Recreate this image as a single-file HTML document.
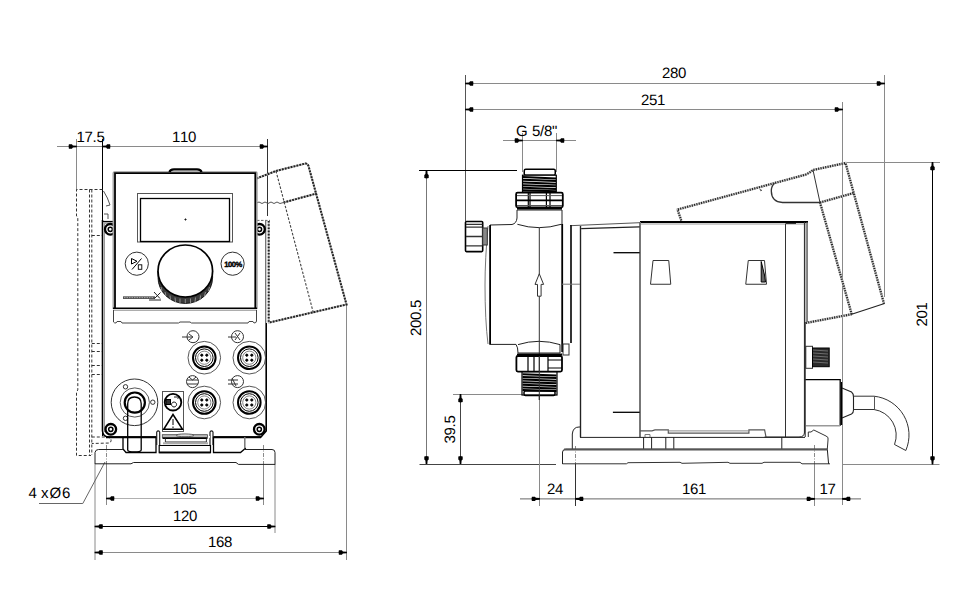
<!DOCTYPE html>
<html><head><meta charset="utf-8">
<style>
html,body{margin:0;padding:0;background:#fff;width:976px;height:600px;overflow:hidden}
svg{display:block}
text{stroke:none;font-family:"Liberation Sans",sans-serif;font-size:15px;fill:#000;text-rendering:geometricPrecision;letter-spacing:-0.5px}
.d{stroke:#8a8a8a;stroke-width:1;fill:none}
.k{fill:none}
.g{fill:none}
.h{fill:none;stroke-dasharray:3 2}
.a{fill:#000;stroke:none}
</style></head><body>
<svg width="976" height="600" viewBox="0 0 976 600" stroke="#000" stroke-width="1">
<defs>
<path id="ar" d="M0.4 -0.8 L-3.6 -1.1 L-4.6 -2.2 L-7.6 -2.2 Q-8.4 0 -7.6 2.2 L-4.6 2.2 L-3.6 1.1 L0.4 0.8 Z"/>
</defs>
<!-- ================= LEFT VIEW DIMENSIONS ================= -->
<g id="leftdims">
  <!-- top dim line -->
  <line class="d" x1="57" y1="146.5" x2="268" y2="146.5"/>
  <line class="d" x1="76.5" y1="139" x2="76.5" y2="190"/>
  <line class="k" x1="102.5" y1="139" x2="102.5" y2="436"/>
  <line class="k" x1="267.5" y1="139" x2="267.5" y2="216" stroke="#333"/>
  <use href="#ar" class="a" transform="translate(76.5,146.5)"/>
  <use href="#ar" class="a" transform="translate(102.5,146.5) rotate(180)"/>
  <use href="#ar" class="a" transform="translate(267.5,146.5)"/>
  <text x="76.5 84.5 92.5 96.5" y="142" style="letter-spacing:0">17.5</text>
  <text x="172 180 188" y="142" style="letter-spacing:0">110</text>
  <!-- bottom dims -->
  <line class="d" x1="95" y1="464" x2="95" y2="560"/>
  <line class="d" x1="106.5" y1="445" x2="106.5" y2="464" style="stroke-dasharray:4 1.5 1 1.5"/>
  <line class="d" x1="106.5" y1="464" x2="106.5" y2="505"/>
  <line class="d" x1="263.5" y1="445" x2="263.5" y2="464" style="stroke-dasharray:4 1.5 1 1.5"/>
  <line class="d" x1="263.5" y1="464" x2="263.5" y2="505"/>
  <line class="d" x1="275" y1="464" x2="275" y2="533"/>
  <line class="d" x1="346.5" y1="305" x2="346.5" y2="560"/>
  <line class="d" x1="106.5" y1="498.5" x2="263.5" y2="498.5" style="stroke:#b0b0b0"/>
  <use href="#ar" class="a" transform="translate(106.5,498.5) rotate(180)"/>
  <use href="#ar" class="a" transform="translate(263.5,498.5)"/>
  <line class="d" x1="95" y1="526.5" x2="275" y2="526.5" style="stroke:#000"/>
  <use href="#ar" class="a" transform="translate(95,526.5) rotate(180)"/>
  <use href="#ar" class="a" transform="translate(275,526.5)"/>
  <line class="d" x1="95" y1="552.5" x2="346.5" y2="552.5"/>
  <use href="#ar" class="a" transform="translate(95,552.5) rotate(180)"/>
  <use href="#ar" class="a" transform="translate(346.5,552.5)"/>
  <text x="172.5 180.5 188.5" y="494" style="letter-spacing:0">105</text>
  <text x="173 181 189" y="521" style="letter-spacing:0">120</text>
  <text x="208 216 224" y="547" style="letter-spacing:0">168</text>
  <polyline class="d" points="105,462 82.8,503.5 39,503.5" style="stroke:#666"/>
  <text x="28.5 36.5 41 49.5 62" y="498" style="letter-spacing:0">4 xØ6</text>
</g>
<!-- ================= LEFT VIEW OBJECT ================= -->
<g id="leftobj">
  <!-- dashed hidden left cover -->
  <g class="h" stroke="#333">
    <path d="M102.5 189.5 L76.5 189.5 L76.5 216 L77.8 218 L77.8 390 L76.5 392 L76.5 455.5 L91 455.5"/>
    <line x1="89.5" y1="189.5" x2="89.5" y2="455"/>
    <line x1="91.8" y1="189.5" x2="91.8" y2="455"/>
    <line x1="91.8" y1="235.5" x2="102.5" y2="235.5"/>
    <line x1="91.8" y1="343.5" x2="102.5" y2="343.5"/>
    <line x1="91.8" y1="351.5" x2="102.5" y2="351.5"/>
    <line x1="91.8" y1="365.5" x2="102.5" y2="365.5"/>
    <line x1="91.8" y1="374.5" x2="102.5" y2="374.5"/>
    <path d="M91.8 437 L108 437 Q113 439 110 443 L91.8 443.5"/>
  </g>
  <path class="k" d="M103.5 191 Q108 198 110 205 L106 206 M104 214 L108 214 L108 219" stroke="#555"/>
  <!-- dashed hidden right cover -->
  <defs><g id="lcov" fill="none">
    <path d="M256.5 178.5 L276 171 L305.5 163.5 Q307.5 163.5 308.5 166 L346.5 304.5 L268.5 322.7"/>
    <line x1="283.5" y1="202.5" x2="316.6" y2="193.5"/>
  </g></defs>
  <use href="#lcov" stroke="#b8b8b8" stroke-width="2"/>
  <use href="#lcov" stroke="#222" stroke-width="2" stroke-dasharray="1.8 1.2"/>
  <line x1="276" y1="171" x2="313.6" y2="313.7" stroke="#444" stroke-width="1.1" stroke-dasharray="2.5 1.5"/>
  <path d="M256.5 203 L259 202 L262 203.5 L265 202 L268 203.5 L271 202 L274 203.5 L277 202 L280 203.5 L283.5 202.5" stroke="#555" fill="none"/>
  <line x1="268.7" y1="221" x2="268.7" y2="323" stroke="#bbb" stroke-width="2"/>
  <line x1="268.7" y1="221" x2="268.7" y2="323" stroke="#222" stroke-width="2" stroke-dasharray="1.6 1.6"/>
  <line x1="257" y1="220.4" x2="270" y2="220.4" stroke="#666" stroke-dasharray="2.5 1.5"/>
  <line x1="265.7" y1="221" x2="265.7" y2="323" stroke="#666" stroke-width="1.2"/>
  <!-- housing body -->
  <path class="k" d="M102.5 220 L102.5 431 Q103 436.5 108 437 L156 437 M213 437 L261 437 L266.2 431 L266.2 323" stroke-width="1.6"/>
  
  <line class="g" x1="104.5" y1="222" x2="104.5" y2="432" stroke="#999"/>
  
  <path class="k" d="M106 437.3 L156.7 437.3 M213 437.3 L261 437.3" stroke-width="2"/>
  <!-- upper screws -->
  <defs><g id="scr">
    <circle cx="110.3" cy="229.3" r="5.3" fill="#fff" stroke="#000" stroke-width="2.3"/>
    <circle cx="110.3" cy="229.3" r="2.1" fill="none" stroke="#000" stroke-width="1.5"/>
  </g></defs>
  <path d="M103 221.5 L113 221.5" stroke="#000" stroke-width="1.2" fill="none"/>
  <path d="M103.5 223 L113 223" stroke="#aaa" stroke-width="2" fill="none"/>
  <use href="#scr"/>
  <use href="#scr" transform="translate(149.2,0)"/>
  <rect x="113.2" y="171.8" width="143.8" height="137.5" fill="#fff" stroke="none"/>
  <!-- front panel -->
  <path class="k" d="M113.2 309 L113.2 173 Q113.2 171.8 114.5 171.8 L256 171.8 Q257 171.8 257 173 L257 309" stroke="#999" stroke-width="1.3"/>
  <path class="k" d="M115 309 L115 173.2 L255.3 173.2 L255.3 309" stroke-width="1.8"/>
  <line class="k" x1="113" y1="308.3" x2="257" y2="308.3" stroke-width="1.6"/>
  <line class="k" x1="113" y1="310.2" x2="257" y2="310.2" stroke="#888" stroke-width="1"/>
  <path class="k" d="M169.5 172 Q170 169.3 174 169.3 L197 169.3 Q201 169.3 201.5 172" stroke-width="2.2"/>
  <rect class="k" x="137.5" y="193.5" width="95" height="48.5" stroke="#555"/>
  <rect class="k" x="140.5" y="198.5" width="89" height="43" stroke-width="1.3"/>
  <circle cx="185.5" cy="219.5" r="0.6" fill="#666"/>
  <!-- buttons -->
  <circle class="k" cx="136.8" cy="263.7" r="11.6" stroke="#333"/>
  <circle class="k" cx="232.6" cy="263.7" r="11.6" stroke="#333"/>
  <path class="k" d="M131.5 258.5 L137 261.3 L131.5 264 Z M132 269.5 L141.5 258.5" stroke-width="1"/>
  <rect class="k" x="138.3" y="264.8" width="3.5" height="4.5" stroke-width="0.9"/>
  <text x="233" y="266.8" text-anchor="middle" style="font-size:7.6px;font-weight:bold;letter-spacing:-0.5px;stroke:#000;stroke-width:0.4">100%</text>
  <!-- knob -->
  <path d="M158 271 A27.3 26 0 0 0 212.6 271 L212.6 277.5 A27.3 26 0 0 1 158 277.5 Z" fill="#3a3a3a" stroke="#000" stroke-width="0.8"/>
  <path d="M161 287 L162 291 M165 292 L166 296 M170 295.5 L170.5 300 M175 297.5 L175.5 302 M180 298.5 L180 303 M185.3 299 L185.3 303.2 M190.5 298.5 L190.5 303 M195.5 297.5 L195 302 M200.5 295.5 L200 300 M205.5 292 L204.5 296 M209.5 287 L208.5 291" stroke="#999" stroke-width="0.9" fill="none"/>
  <ellipse cx="185.3" cy="271" rx="27.3" ry="26" stroke="#000" stroke-width="1.7" fill="#fff"/>
  <!-- logo -->
  <path d="M123 296.3 L155 296.3 L155 299 L123 299 Z" fill="#555" stroke="none"/>
  <path d="M124 297.6 L154 297.6" stroke="#ddd" stroke-width="0.6" stroke-dasharray="1.5 1"/>
  <path d="M154 292 L160 298.5 M160.5 292.5 L154.5 298.5 M149 300 L161 300" stroke="#222" stroke-width="1" fill="none"/>
  <!-- lower ledge -->
  <path class="k" d="M113.5 310 L113.5 322 Q114 323 116 323 L117 321.5 L121 321.5 L122 323 L178.5 323 L180 322 L190 322 L191.5 323 L248 323 L249 321.5 L253 321.5 L254 323 Q256.5 323 256.5 321 L256.5 310" stroke="#444"/>
  <!-- connectors -->
  <g id="conn">
    <circle class="k" cx="204.3" cy="357.7" r="16.3" stroke="#444" stroke-width="0.9"/>
    <circle class="k" cx="204.3" cy="357.7" r="11.3" stroke-width="2"/>
    <circle class="k" cx="204.3" cy="357.7" r="8.8" stroke-width="1"/>
    <circle class="k" cx="204.3" cy="357.7" r="6.6" stroke="#666" stroke-width="0.8"/>
    <circle cx="201.8" cy="355.2" r="1.1"/><circle cx="206.8" cy="355.2" r="1.1"/>
    <circle cx="201.8" cy="360.2" r="1.1"/><circle cx="206.8" cy="360.2" r="1.1"/>
  </g>
  <use href="#conn" transform="translate(45,0)"/>
  <use href="#conn" transform="translate(0,44.8)"/>
  <use href="#conn" transform="translate(45,44.8)"/>
  <g stroke="#333" fill="none" stroke-width="1">
    <circle cx="193" cy="336.7" r="6"/><path d="M182 337 L192 337 M189 334 L193 337 L189 340"/>
    <circle cx="237.5" cy="336.7" r="6"/><path d="M228 337 L236 337 M235 333 L240 340 M240 333 L235 340"/>
    <circle cx="192.5" cy="381.6" r="6"/><path d="M187 380 L198 380 M187 384 L198 384 M189 377 L192.5 380 L196 377"/>
    <circle cx="237.5" cy="381.6" r="6"/><path d="M228 380 L238 380 M228 384 L238 384 M232 378 L236 386"/>
  </g>
  <!-- power socket with cable -->
  <circle class="k" cx="134.5" cy="402.3" r="23.3" stroke="#333"/>
  <circle class="k" cx="134.8" cy="402.5" r="14.6" stroke="#444" stroke-width="0.9"/>
  <circle class="k" cx="134.8" cy="402.6" r="10.1" stroke-width="2.2"/>
  <circle class="k" cx="125.5" cy="386.8" r="2.2" stroke="#333"/>
  <circle class="k" cx="152.8" cy="402.2" r="2.2" stroke="#333"/>
  <circle class="k" cx="125.5" cy="418.3" r="2.2" stroke="#333"/>
  <path class="k" d="M127.7 450 L127.7 403.8 Q127.7 397 134.45 397 Q141.2 397 141.2 403.8 L141.2 450 Q141 452 134.45 452 Q127.9 452 127.7 450 Z" fill="#fff" stroke-width="1.3"/>
  <!-- warning sign -->
  <rect class="k" x="162.5" y="391.5" width="21" height="40" stroke="#555"/>
  <circle class="k" cx="173" cy="402.2" r="8.3" stroke-width="1.8"/>
  <rect x="166" y="399.5" width="4.5" height="5" fill="#333"/>
  <path class="k" d="M174 402 A2.5 2.5 0 1 0 174.1 402 M174 397 L180 397 M177.5 395.5 L180 397 L177.5 398.5" stroke-width="0.9"/>
  <path class="k" d="M173 414.5 L163.7 429.3 L182.5 429.3 Z" stroke-width="1.5"/>
  <path class="k" d="M173 419 L173 425 M173 426.5 L173 428" stroke-width="1"/>
  <!-- feet and latch -->
  <path class="k" d="M123 437 L123 449 L126 452.5 L156 452.5 L156 437" stroke-width="1.3"/>
  <path class="k" d="M156.7 445 L156.7 432 Q158.2 429.8 159.7 432 L159.7 445" stroke="#222" stroke-width="1.2" fill="#fff"/>
  <path class="k" d="M210 445 L210 432 Q211.5 429.8 213 432 L213 445" stroke="#222" stroke-width="1.2" fill="#fff"/>
  <rect x="161" y="436" width="49" height="1.8" fill="#fff" stroke="none"/>
  <rect x="162.3" y="434.7" width="45.1" height="2.8" fill="#bbb" stroke="#444" stroke-width="0.8"/>
  <ellipse cx="185" cy="435.3" rx="9" ry="1.4" fill="#ddd" stroke="#444" stroke-width="0.8"/>
  <path class="k" d="M162.5 438.3 L207.5 438.3" stroke-width="1.5"/>
  <path class="k" d="M165.4 438.5 L165.4 442 L206.4 442 L206.4 438.5" stroke="#333"/>
  <rect x="163" y="442.3" width="45" height="2" fill="#aaa" stroke="none"/>
  <path class="k" d="M159.2 445.5 L210.5 445.5 L210.5 452.7 L159.2 452.7 Z" stroke-width="1.2"/>
  <line class="k" x1="159.2" y1="452.3" x2="210.5" y2="452.3" stroke-width="1.8"/>
  <path class="k" d="M213.5 437 L213.5 452.5 L240.5 452.5 L245.8 448" stroke-width="1.3"/>
  <line class="k" x1="244.8" y1="437" x2="244.8" y2="448" stroke="#777" stroke-width="1.5"/>
  <!-- lower screws -->
  <use href="#scr" transform="translate(0.5,200)"/>
  <use href="#scr" transform="translate(149,200)"/>
  <!-- base -->
  <path class="k" d="M95 464 L95 452.5 Q95.5 449.5 98.5 449.5 L123 449.5" stroke="#222"/>
  <path class="k" d="M243 449.5 L272 449.5 Q275 449.5 275 452.5 L275 464.5" stroke="#222"/>
  <path class="k" d="M95 463.8 L131 463.8 L133.5 462.5 L236 462.5 L238.5 464.4 L275 464.4" stroke="#222"/>
</g>
<!-- ================= RIGHT VIEW DIMENSIONS ================= -->
<g id="rightdims">
  <line class="d" x1="465.5" y1="75" x2="465.5" y2="221" style="stroke:#555"/>
  <line class="d" x1="884.5" y1="75" x2="884.5" y2="297"/>
  <line class="d" x1="842.5" y1="102" x2="842.5" y2="505"/>
  <line class="d" x1="465.5" y1="83.5" x2="884.5" y2="83.5"/>
  <use href="#ar" class="a" transform="translate(465.5,83.5) rotate(180)"/>
  <use href="#ar" class="a" transform="translate(884.5,83.5)"/>
  <line class="d" x1="465.5" y1="109.5" x2="842.5" y2="109.5"/>
  <use href="#ar" class="a" transform="translate(465.5,109.5) rotate(180)"/>
  <use href="#ar" class="a" transform="translate(842.5,109.5)"/>
  <text x="662 670 678" y="78" style="letter-spacing:0">280</text>
  <text x="641 649 657" y="105" style="letter-spacing:0">251</text>
  <!-- G 5/8 -->
  <line class="d" x1="503" y1="140.5" x2="576" y2="140.5"/>
  <line class="d" x1="522.5" y1="133" x2="522.5" y2="172"/>
  <line class="d" x1="556.5" y1="133" x2="556.5" y2="172"/>
  <use href="#ar" class="a" transform="translate(522.5,140.5)"/>
  <use href="#ar" class="a" transform="translate(556.5,140.5) rotate(180)"/>
  <text x="516 528 532 540 544 552" y="136" style="letter-spacing:0">G 5/8"</text>
  <!-- 200.5 -->
  <line class="k" x1="419" y1="170.5" x2="517" y2="170.5"/>
  <line class="k" x1="426.5" y1="170.5" x2="426.5" y2="464" stroke="#777"/>
  <use href="#ar" class="a" transform="translate(426.5,170.5) rotate(-90)"/>
  <use href="#ar" class="a" transform="translate(426.5,464) rotate(90)"/>
  <text transform="translate(421,318) rotate(-90)" x="-18 -10 -2 6 10" style="letter-spacing:0">200.5</text>
  <!-- 39.5 -->
  <line class="d" x1="453" y1="394.5" x2="525" y2="394.5"/>
  <line class="k" x1="460.5" y1="394.5" x2="460.5" y2="464" stroke="#444"/>
  <use href="#ar" class="a" transform="translate(460.5,394.5) rotate(-90)"/>
  <use href="#ar" class="a" transform="translate(460.5,464) rotate(90)"/>
  <text transform="translate(455,429.5) rotate(-90)" x="-14 -6 2 6" style="letter-spacing:0">39.5</text>
  <!-- ground -->
  <line class="k" x1="419.5" y1="464.5" x2="556" y2="464.5" stroke="#444"/>
  <line class="d" x1="842" y1="464.5" x2="939.5" y2="464.5"/>
  <!-- 201 -->
  <line class="d" x1="846" y1="162.5" x2="940" y2="162.5"/>
  <line class="k" x1="932.5" y1="162.5" x2="932.5" y2="464"/>
  <use href="#ar" class="a" transform="translate(932.5,162.5) rotate(-90)"/>
  <use href="#ar" class="a" transform="translate(932.5,464) rotate(90)"/>
  <text transform="translate(927,314.5) rotate(-90)" x="-12 -4 4" style="letter-spacing:0">201</text>
  <!-- bottom 24 161 17 -->
  <line class="d" x1="539.5" y1="395" x2="539.5" y2="506"/>
  <line class="d" x1="575.5" y1="446" x2="575.5" y2="464" style="stroke-dasharray:4 1.5 1 1.5"/>
  <line class="d" x1="575.5" y1="464" x2="575.5" y2="506" style="stroke:#333"/>
  <line class="d" x1="814.5" y1="445" x2="814.5" y2="464" style="stroke-dasharray:4 1.5 1 1.5"/>
  <line class="d" x1="814.5" y1="464" x2="814.5" y2="506"/>
  <line class="d" x1="520" y1="498.9" x2="861" y2="498.9" style="stroke:#666"/>
  <use href="#ar" class="a" transform="translate(539.5,498.9)"/>
  <use href="#ar" class="a" transform="translate(575.5,498.9) rotate(180)"/>
  <use href="#ar" class="a" transform="translate(814.5,498.9)"/>
  <use href="#ar" class="a" transform="translate(842.5,498.9) rotate(180)"/>
  <text x="547 555" y="494" style="letter-spacing:0">24</text>
  <text x="682 690 698" y="494" style="letter-spacing:0">161</text>
  <text x="819.5 827.5" y="494" style="letter-spacing:0">17</text>
</g>
<!-- ================= RIGHT VIEW OBJECT ================= -->
<g id="rightobj">
  <!-- cover (tilted) -->
  <defs><g id="cov" fill="none">
    <path d="M681.25 220.5 L677.5 209.5 L806 174.5 Q810 172.5 813 170 L845.5 163 L884 303.7"/>
    <path d="M851.7 314.2 L805.8 323"/>
    <path d="M820 202.5 L851.7 314.2"/>
    <line x1="820" y1="202.5" x2="853.75" y2="193"/>
  </g></defs>
  <use href="#cov" stroke="#c4c4c4" stroke-width="2.4"/>
  <use href="#cov" stroke="#222" stroke-width="2.2" stroke-dasharray="1.1 1.3"/>
  <path d="M813 170 L820 202.5" stroke="#333" fill="none"/>
  <path d="M884.5 303.5 L851.7 314.2" stroke="#222" stroke-width="1.2" fill="none"/>
  <path d="M820 202.5 L782.5 202.5 Q771.5 202 771.3 191 Q771.3 186 774.5 183.2" stroke="#333" fill="none" stroke-width="1.3"/>
  <path d="M760 189 Q760.5 192 762 190" stroke="#444" fill="none"/>
  <!-- main body -->
  <g fill="none">
    <line x1="640" y1="222" x2="808" y2="222" stroke-width="2"/>
    <line x1="641" y1="224" x2="806" y2="224" stroke="#999" stroke-width="1"/>
    <line x1="640" y1="222" x2="640" y2="437.5" stroke="#777" stroke-width="2"/>
    <line x1="785.5" y1="224" x2="785.5" y2="437" stroke="#333"/>
    <line x1="804.5" y1="222" x2="804.5" y2="432" stroke="#333" stroke-width="1.2"/>
    <line x1="807" y1="222" x2="807" y2="322" stroke="#555" stroke-width="1.5"/>
    <line x1="805.8" y1="223" x2="805.8" y2="322" stroke="#aaa" stroke-width="1"/>
    <path d="M785.5 223.5 L796 223.5" stroke="#333"/>
    <path d="M804.5 432 Q804.5 437 799 437 L764.6 437" stroke="#222"/>
    <path d="M653 260.5 L668.75 260.5 L670.75 284.25 L650.5 284.25 Z" stroke="#333"/>
    <path d="M748.25 260.5 L764.5 260.5 L766.5 284.25 L745.75 284.25 Z" stroke="#333"/>
    <path d="M761.2 261.5 L761.2 282 L765.5 282 L764.5 275 Z" stroke="#000" stroke-width="1" fill="#666"/>
    <!-- body bottom -->
    <path d="M640 430.8 L652 430.8 L655 429.9 L668.3 429.9 L668.3 433.2 L748.9 433.2 L748.9 429.9 L764.6 429.9 L766 437" stroke="#555" stroke-width="1.2"/>
    <line x1="668.3" y1="430.9" x2="748.9" y2="430.9" stroke="#888"/>
    <line x1="580" y1="437.4" x2="805" y2="437.4" stroke="#222"/>
    <path d="M643.6 437 L643.6 449 M651.6 437 L651.6 449 M665.8 437 L665.8 449 M673.8 437 L673.8 449 M781.8 437 L781.8 449" stroke="#222"/>
    <path d="M645 437 L645 434.5 L650 434.5 L650 437" stroke="#777"/>
  </g>
  <!-- drive box -->
  <g fill="none">
    <line x1="570" y1="225.7" x2="639.7" y2="222.7" stroke="#555"/>
    <line x1="581.2" y1="228.7" x2="639.7" y2="226.8" stroke="#222" stroke-width="1.2"/>
    <line x1="580.5" y1="226" x2="580.5" y2="437.5" stroke="#222" stroke-width="1.2"/>
    <line x1="613.5" y1="252.7" x2="639.7" y2="252.7" stroke-width="1.3"/>
    <line x1="612.9" y1="412.3" x2="639.7" y2="412.3" stroke-width="1.3"/>
    <path d="M572.3 449 L572.3 434 Q573 427 579 427 L580 427" stroke="#222"/>
  </g>
  <!-- pump head -->
  <g fill="none">
    <path d="M490 225 L512 224.5 Q516.5 223.5 517 218 L517 210 L562 210 L562 225" stroke="#222"/>
    <path d="M517.4 224.3 Q539 231 561.2 224.3" stroke="#222"/>
    <line x1="490.1" y1="225" x2="490.1" y2="344.4" stroke-width="1.8"/>
    <path d="M488 226 Q485 260 485 285 Q485 320 488 344" stroke="#777"/>
    <line x1="489.6" y1="344.4" x2="516" y2="344.4" stroke="#222"/>
    <path d="M516 344.4 Q518 347 518 353 L560 353 L560 344.4" stroke="#222"/>
    <path d="M518 344.6 Q539 338 560 344.6" stroke="#222"/>
    <line x1="562.2" y1="224" x2="562.2" y2="352" stroke-width="1.8"/>
    <line x1="571" y1="225" x2="571" y2="343" stroke="#111" stroke-width="1.7"/>
    <line x1="580.5" y1="226" x2="580.5" y2="437" stroke="#222" stroke-width="1.2"/>
    <line x1="562" y1="284.2" x2="580" y2="284.2" stroke="#777"/>
    <rect x="563" y="344" width="6" height="11" stroke="#333"/>
    <line x1="539.3" y1="228" x2="539.3" y2="400" stroke="#333"/>
    <path d="M539.3 273.8 L535 284.4 L537.5 284.4 L537.5 296.2 L541.1 296.2 L541.1 284.4 L543.6 284.4 Z" fill="#fff" stroke="#333"/>
    <!-- vent knob -->
    <rect x="465.5" y="221.5" width="17.2" height="30.1" rx="1" stroke-width="1.6"/>
    <path d="M466 224.3 L482.5 224.3 M466 227.2 L482.5 227.2 M466 236.5 L482.5 236.5 M466 245.8 L482.5 245.8" stroke="#333" stroke-width="1.3"/>
    <rect x="482.7" y="228" width="4.6" height="17" fill="#888" stroke="#333"/>
  </g>
  <!-- top fitting -->
  <g fill="none">
    <rect x="524.25" y="169.3" width="31" height="6" rx="1.5" stroke-width="1.5"/>
    <rect x="522.5" y="175.2" width="33.8" height="16.8" fill="#fff" stroke-width="1.2"/>
    <path d="M523 177 L556 178.5 M523 179.8 L556 181 M523 182.5 L556 183.8 M523 185.2 L556 186.3 M523 187.8 L556 189 M523 190.3 L556 191.3" stroke-width="2"/>
    <rect x="516.1" y="192.7" width="46.7" height="14.6" rx="1.5" stroke-width="1.8"/>
    <path d="M528.3 193 L528.3 207 M530 193 L530 207 M546.4 193 L546.4 207 M550 193 L550 207" stroke-width="1.2"/>
    <path d="M517 195.6 L562 195.6 M517 205.5 L562 205.5" stroke="#555"/>
    <line x1="517" y1="200.3" x2="562" y2="200.3" stroke-width="1.8"/>
    <line x1="517" y1="208.5" x2="562" y2="208.5" stroke-width="2"/>
  </g>
  <!-- bottom fitting -->
  <g fill="none">
    <line x1="517" y1="354.5" x2="562" y2="354.5" stroke-width="2"/>
    <rect x="516.4" y="356" width="45.6" height="15.6" rx="1.5" stroke-width="1.8"/>
    <path d="M528 356 L528 371.6 M534 356 L534 371.6 M548 356 L548 371.6" stroke-width="1.2"/>
    <path d="M548 360 L562 360 M548 368 L562 368" stroke-width="1.2"/>
    <rect x="522" y="372" width="35" height="23" fill="#fff" stroke-width="1.2"/>
    <path d="M522.5 374.2 L556.5 375.5 M522.5 376.9 L556.5 378 M522.5 379.5 L556.5 380.8 M522.5 382.2 L556.5 383.3 M522.5 384.8 L556.5 386 M522.5 387.4 L556.5 388.6 M522.5 390 L556.5 391" stroke-width="2"/>
    <rect x="524" y="391" width="31" height="4.5" rx="1.5" stroke-width="1.5"/>
    <line x1="539.3" y1="356" x2="539.3" y2="400" stroke="#333"/>
  </g>
  <!-- base -->
  <g fill="none">
    <path d="M562.5 464 L562.5 452 Q562.8 449.2 566 449.2 L827.3 449.2 L828.6 464" stroke="#222"/>
    <line x1="564" y1="449.5" x2="827" y2="449.5" stroke="#555" stroke-width="2"/>
    <path d="M562.5 463.8 L626.4 463.8 L628 462.7 L680 462.3 L682 463.3 L728 462.3 L730 463.3 L762 463.3 L764 462.3 L800 462.3 L802 463.8 L830 463.8" stroke="#333"/>
    <path d="M808.3 437 L808.3 432 L811 432 L813.8 430 L826 436 Q829 437 828 440 L827.3 449" stroke="#333"/>
  </g>
  <!-- connector on side -->
  <rect x="805.8" y="346.3" width="6.7" height="22" fill="#fff" stroke="#333"/>
  <rect x="812.5" y="348" width="16.7" height="18.7" fill="#2a2a2a" stroke="#000"/>
  <path d="M813 350 L828 351 M813 353 L828 354 M813 356 L828 357 M813 359 L828 360 M813 362 L828 363" stroke="#999" stroke-width="0.6"/>
  <!-- cable gland -->
  <g fill="none">
    <path d="M805.2 379.7 L840.2 379.7 L840.2 425.8" stroke-width="1.3"/>
    <line x1="806" y1="425.8" x2="840" y2="425.8" stroke="#999" stroke-width="1.5"/>
    <line x1="805.2" y1="322" x2="805.2" y2="437" stroke="#222"/>
    <path d="M842 388 L851.5 392 Q853.5 393.5 853.5 397 L853.5 410 Q853.5 413 851.5 414 L842 418" stroke="#222" stroke-width="1.1"/>
    <line x1="841.5" y1="382" x2="841.5" y2="425" stroke-width="1.3"/>
    <path d="M853.5 396.2 L874 396.2 A39 39 0 0 1 905.8 450.5 L894.5 444.5 A26 26 0 0 0 874 409.5 L853.5 409.5" stroke="#333"/>
    <line x1="874.5" y1="396.5" x2="874.5" y2="409.5" stroke="#555"/>
  </g>
</g>
</svg>
</body></html>
